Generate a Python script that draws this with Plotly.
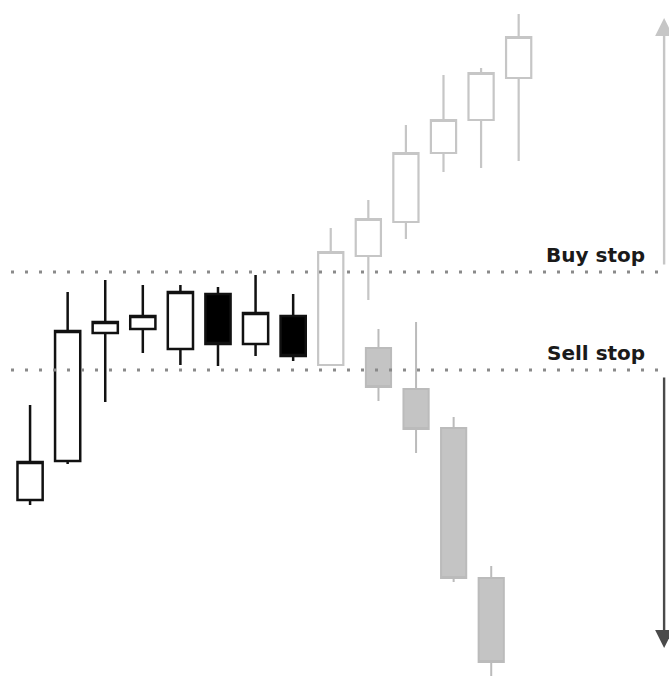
import plotly.graph_objects as go

# ---- data (price units; higher = up) ----
# setup candles (black / white)
base_x = [0, 1, 2, 3, 4, 5, 6, 7]
base_open = [178, 217, 345, 349, 329, 384, 334, 362]
base_high = [273, 386, 398, 393, 393, 391, 403, 384]
base_low = [173, 214, 276, 325, 313, 312, 322, 317]
base_close = [216, 347, 356, 362, 386, 334, 365, 322]

# breakout up scenario (light grey)
up_x = [8, 9, 10, 11, 12, 13]
up_open = [313, 422, 456, 525, 558, 600]
up_high = [450, 478, 553, 603, 610, 664]
up_low = [313, 378, 439, 506, 510, 517]
up_close = [426, 459, 525, 558, 605, 641]

# breakdown scenario (grey filled)
down_x = [9.27, 10.27, 11.27, 12.27]
down_open = [330, 289, 250, 100]
down_high = [349, 356, 261, 112]
down_low = [277, 225, 96, 2]
down_close = [291, 249, 100, 16]

buy_stop = 406
sell_stop = 308
labels = ["Buy stop", "Sell stop"]
arrow_x = 16.87
up_target = 660
down_target = 30

W, H = 669, 678

fig = go.Figure()

fig.add_trace(go.Candlestick(
    x=base_x, open=base_open, high=base_high, low=base_low, close=base_close,
    increasing=dict(line=dict(color="#111111", width=2.5), fillcolor="#ffffff"),
    decreasing=dict(line=dict(color="#111111", width=2.5), fillcolor="#000000"),
    whiskerwidth=0, showlegend=False, hoverinfo="skip",
))
fig.add_trace(go.Candlestick(
    x=up_x, open=up_open, high=up_high, low=up_low, close=up_close,
    increasing=dict(line=dict(color="#c6c6c6", width=2.2), fillcolor="#ffffff"),
    decreasing=dict(line=dict(color="#c6c6c6", width=2.2), fillcolor="#ffffff"),
    whiskerwidth=0, showlegend=False, hoverinfo="skip",
))
fig.add_trace(go.Candlestick(
    x=down_x, open=down_open, high=down_high, low=down_low, close=down_close,
    increasing=dict(line=dict(color="#bbbbbb", width=2), fillcolor="#c4c4c4"),
    decreasing=dict(line=dict(color="#bbbbbb", width=2), fillcolor="#c4c4c4"),
    whiskerwidth=0, showlegend=False, hoverinfo="skip", xaxis="x2",
))

# dotted stop levels
for lvl in (buy_stop, sell_stop):
    fig.add_shape(type="line", xref="paper", yref="y", x0=11 / W, x1=1, y0=lvl, y1=lvl,
                  line=dict(color="#8a8a8a", width=3, dash="3px,11px"))

# labels
for lbl, lvl in zip(labels, (buy_stop, sell_stop)):
    fig.add_annotation(text=lbl, xref="paper", yref="y", x=647 / W, y=lvl,
                       xanchor="right", yanchor="bottom", yshift=3, showarrow=False,
                       font=dict(family="DejaVu Sans", size=20, color="#1a1a1a", weight="bold"))

# arrows
fig.add_annotation(text="", xref="x", yref="y", x=arrow_x, y=up_target,
                   axref="x", ayref="y", ax=arrow_x, ay=buy_stop + 6,
                   showarrow=True, arrowhead=2, arrowsize=1.5, arrowwidth=2.4,
                   arrowcolor="#c6c6c6")
fig.add_annotation(text="", xref="x", yref="y", x=arrow_x, y=down_target,
                   axref="x", ayref="y", ax=arrow_x, ay=sell_stop - 6,
                   showarrow=True, arrowhead=2, arrowsize=1.5, arrowwidth=2.4,
                   arrowcolor="#4a4a4a")

xr = [-0.80, 17.0]
fig.update_layout(
    width=W, height=H,
    margin=dict(l=0, r=0, t=0, b=0),
    paper_bgcolor="#ffffff", plot_bgcolor="#ffffff",
    boxgap=0.33, boxgroupgap=0,
    xaxis=dict(range=xr, visible=False, rangeslider=dict(visible=False), fixedrange=True),
    xaxis2=dict(range=xr, visible=False, overlaying="x", rangeslider=dict(visible=False)),
    yaxis=dict(range=[0, 678], visible=False, fixedrange=True),
    showlegend=False,
)

fig.write_html(
    "out.html",
    config={"displayModeBar": False, "staticPlot": True},
    post_script="document.body.style.margin='0';document.body.style.overflow='hidden';",
)
